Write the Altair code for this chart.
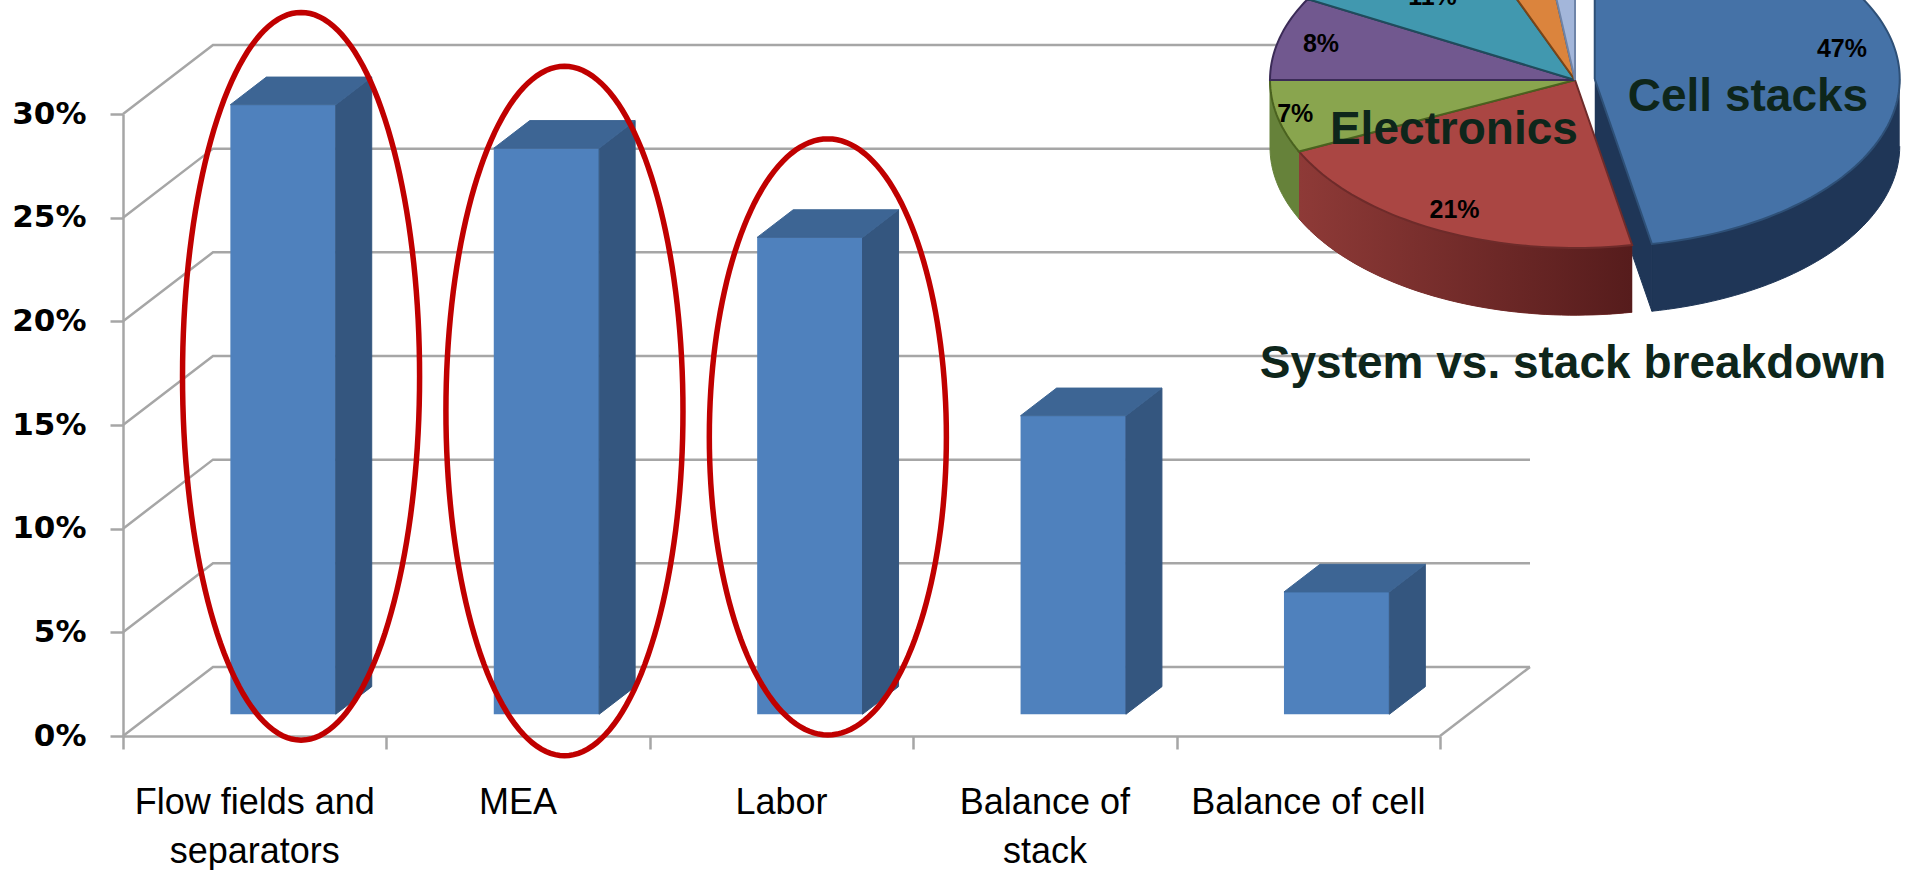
import math
import altair as alt
import pandas as pd

# Stack cost breakdown (3-D bar chart)
categories = ["Flow fields and\nseparators", "MEA", "Labor", "Balance of\nstack", "Balance of cell"]
stack_share = [29.4, 27.3, 23.0, 14.4, 5.9]
circled = [0, 1, 2]
y_ticks = [0, 5, 10, 15, 20, 25, 30]

# System cost breakdown (inset 3-D pie)
system_parts = ["Cell stacks", "Electronics", "Segment 3", "Segment 4", "Segment 5", "Segment 6", "Segment 7"]
system_share = [47, 21, 7, 8, 11, 4, 2]
callouts = ["Cell stacks", "Electronics"]
caption = "System vs. stack breakdown"

# ---- styling ----
GRID = "#a6a6a6"
BAR_FRONT = "#4f81bd"
BAR_SIDE = "#34567f"
BAR_TOP = "#3d6594"
RING = "#c00000"
TEXT_DARK = "#0e261b"
ring_pad_top = [5.5, 5.0, 5.8]        # how far each ring reaches above its bar (in %)
ring_pad_bottom = [-0.2, -0.95, 0.05]  # lowest point of each ring (in %)
pie_top_colors = ["#4572a7", "#aa4643", "#89a54e", "#71588f", "#4198af", "#db843d", "#a3b6da"]
pie_edge_colors = ["#2e5077", "#6e2b2a", "#4a621f", "#3b2b57", "#1f4c5c", "#7a4518", "#6f84a8"]
pie_side_colors = ["#1f3657", "#7a302e", "#66823a", "#45365a", "#28606f", "#8a5326", "#6f84a8"]
pie_explode = [0.065, 0, 0, 0, 0, 0, 0]
pie_label_r = [0.83, 0.87, 0.94, 0.86, 0.68, 0.8, 0.8]
pie_label_turn = [-7, 0, 0, 0, -2, 0, 0]
callout_pos = {"Cell stacks": (0.567, -0.10), "Electronics": (-0.397, -0.30)}

# 3-D geometry: full floor depth in category / percent units, bar depth placement
DX, DY = 0.3417, 3.33
Z0, ZD, BW = 0.315, 0.4, 0.4
N = len(categories)

XS = alt.Scale(domain=[0, N], range=[0, 1317])
YS = alt.Scale(domain=[0, 30], range=[736, 114])


def rows(pid, pts, **extra):
    return [dict(poly=pid, idx=j, x=px, y=py, **extra) for j, (px, py) in enumerate(pts)]


# gridlines on the left wall and back wall, plus the right floor edge
grid_rows = []
for v in y_ticks:
    grid_rows += rows(f"g{v}", [(0, v), (DX, v + DY), (N + DX, v + DY)])
grid_rows += rows("floor", [(N, 0), (N + DX, DY)])
grid_df = pd.DataFrame(grid_rows)

# bar faces
bars = pd.DataFrame({"cat": list(range(N)), "share": stack_share})
bars["x0"] = bars["cat"] + 0.5 - BW / 2 + Z0 * DX
bars["x1"] = bars["x0"] + BW
bars["y0"] = Z0 * DY
bars["y1"] = bars["share"] + Z0 * DY

side_rows, top_rows = [], []
ox, oy = ZD * DX, ZD * DY
for r in bars.itertuples():
    side_rows += rows(f"s{r.cat}", [(r.x1, r.y0), (r.x1 + ox, r.y0 + oy), (r.x1 + ox, r.y1 + oy), (r.x1, r.y1), (r.x1, r.y0)])
    top_rows += rows(f"t{r.cat}", [(r.x0, r.y1), (r.x1, r.y1), (r.x1 + ox, r.y1 + oy), (r.x0 + ox, r.y1 + oy), (r.x0, r.y1)])
side_df = pd.DataFrame(side_rows)
top_df = pd.DataFrame(top_rows)

# highlight rings around the leading bars
ring_rows = []
for n, i in enumerate(circled):
    cx = i + 0.5 + (Z0 + ZD / 2) * DX
    top, bot = stack_share[i] + ring_pad_top[n], ring_pad_bottom[n]
    cy, ry, rx = (top + bot) / 2, (top - bot) / 2, 0.45
    pts = [(cx + rx * math.cos(2 * math.pi * j / 160), cy + ry * math.sin(2 * math.pi * j / 160)) for j in range(161)]
    ring_rows += rows(f"r{i}", pts)
ring_df = pd.DataFrame(ring_rows)

xlab_df = pd.DataFrame({"xc": [i + 0.5 for i in range(N)], "label": categories})

grid = alt.Chart(grid_df).mark_line(color=GRID, strokeWidth=2.5).encode(
    x=alt.X("x:Q", scale=XS, axis=alt.Axis(values=list(range(N + 1)), labels=False, tickSize=13,
                                           tickColor=GRID, tickWidth=2.5, domainColor=GRID,
                                           domainWidth=2.5, grid=False, title=None)),
    y=alt.Y("y:Q", scale=YS, axis=alt.Axis(values=y_ticks, labelExpr="datum.value + '%'",
                                           labelFont="DejaVu Sans", labelFontSize=31,
                                           labelFontWeight="bold", labelColor="#000000",
                                           labelPadding=24, tickSize=13, tickColor=GRID,
                                           tickWidth=2.5, domainColor=GRID, domainWidth=2.5,
                                           grid=False, title=None)),
    detail="poly:N", order="idx:Q",
)

front = alt.Chart(bars).mark_rect(color=BAR_FRONT).encode(
    x=alt.X("x0:Q", scale=XS, axis=None), x2="x1:Q",
    y=alt.Y("y0:Q", scale=YS, axis=None), y2="y1:Q",
)


def face_layer(df, colour):
    return alt.Chart(df).mark_line(fill=colour, stroke=colour, strokeWidth=1).encode(
        x=alt.X("x:Q", scale=XS, axis=None), y=alt.Y("y:Q", scale=YS, axis=None),
        detail="poly:N", order="idx:Q",
    )


sides = face_layer(side_df, BAR_SIDE)
tops = face_layer(top_df, BAR_TOP)

rings = alt.Chart(ring_df).mark_line(color=RING, strokeWidth=5.5).encode(
    x=alt.X("x:Q", scale=XS, axis=None), y=alt.Y("y:Q", scale=YS, axis=None),
    detail="poly:N", order="idx:Q",
)

xlabels = alt.Chart(xlab_df).mark_text(
    font="Liberation Sans", fontSize=36, lineBreak="\n", lineHeight=49,
    baseline="alphabetic", align="center", color="#000000",
).encode(x=alt.X("xc:Q", scale=XS, axis=None), y=alt.value(814), text="label:N")

# ---- pie geometry in unit-circle coordinates; the scales squash it into an ellipse ----
PX = alt.Scale(domain=[-1, 1], range=[1147, 1757])
PY = alt.Scale(domain=[-1, 1], range=[248, -88])
THICK = 0.4


def rim(a):
    return math.sin(math.radians(a)), math.cos(math.radians(a))


def arc(a0, a1, dx, dy, shift=0.0):
    n = max(2, int(abs(a1 - a0) / 1.5) + 1)
    out = []
    for j in range(n + 1):
        a = a0 + (a1 - a0) * j / n
        sx, sy = rim(a)
        out.append((sx + dx, sy + dy - shift))
    return out


pie_top_rows, pie_side_rows, pie_label_rows = [], [], []
start = 0.0
for k, (name, v) in enumerate(zip(system_parts, system_share)):
    a0, a1 = start * 3.6, (start + v) * 3.6
    start += v
    mid = (a0 + a1) / 2
    ex, ey = pie_explode[k] * rim(mid)[0], pie_explode[k] * rim(mid)[1]
    pts = [(ex, ey)] + arc(a0, a1, ex, ey) + [(ex, ey)]
    pie_top_rows += rows(f"p{k}", pts, part=name)
    lo, hi = max(a0, 90), min(a1, 270)
    if hi > lo:
        face = arc(lo, hi, ex, ey) + arc(hi, lo, ex, ey, THICK)
        pie_side_rows += rows(f"ps{k}", face, part=name)
    if pie_explode[k] > 0 and 90 < a1 < 270:
        rx1, ry1 = rim(a1)
        cut = [(ex, ey), (rx1 + ex, ry1 + ey), (rx1 + ex, ry1 + ey - THICK), (ex, ey - THICK)]
        pie_side_rows += rows(f"pc{k}", cut, part=name)
    lr, la = pie_label_r[k], mid + pie_label_turn[k]
    pie_label_rows.append(dict(x=lr * rim(la)[0] + ex, y=lr * rim(la)[1] + ey, text=f"{v}%"))

pie_top_df = pd.DataFrame(pie_top_rows)
pie_side_df = pd.DataFrame(pie_side_rows)
pie_label_df = pd.DataFrame(pie_label_rows)
callout_df = pd.DataFrame({"text": callouts,
                           "x": [callout_pos[c][0] for c in callouts],
                           "y": [callout_pos[c][1] for c in callouts]})

pie_sides = alt.Chart(pie_side_df).mark_line(strokeWidth=1).encode(
    x=alt.X("x:Q", scale=PX, axis=None), y=alt.Y("y:Q", scale=PY, axis=None),
    detail="poly:N", order="idx:Q",
    fill=alt.Fill("part:N", scale=alt.Scale(domain=system_parts, range=pie_side_colors), legend=None),
    stroke=alt.Stroke("part:N", scale=alt.Scale(domain=system_parts, range=pie_side_colors), legend=None),
)

red_shade = alt.Gradient(
    gradient="linear", x1=0, x2=1, y1=0, y2=0,
    stops=[alt.GradientStop(color="#8e3a37", offset=0), alt.GradientStop(color="#561c1c", offset=1)],
)
red_side = alt.Chart(pie_side_df[pie_side_df["part"] == "Electronics"]).mark_line(
    fill=red_shade, strokeWidth=0
).encode(
    x=alt.X("x:Q", scale=PX, axis=None), y=alt.Y("y:Q", scale=PY, axis=None),
    detail="poly:N", order="idx:Q",
)

pie_tops = alt.Chart(pie_top_df).mark_line(strokeWidth=2).encode(
    x=alt.X("x:Q", scale=PX, axis=None), y=alt.Y("y:Q", scale=PY, axis=None),
    detail="poly:N", order="idx:Q",
    fill=alt.Fill("part:N", scale=alt.Scale(domain=system_parts, range=pie_top_colors), legend=None),
    stroke=alt.Stroke("part:N", scale=alt.Scale(domain=system_parts, range=pie_edge_colors), legend=None),
)

pct_labels = alt.Chart(pie_label_df).mark_text(
    font="Liberation Sans", fontSize=25, fontWeight="bold", color="#000000",
    align="center", baseline="middle",
).encode(x=alt.X("x:Q", scale=PX, axis=None), y=alt.Y("y:Q", scale=PY, axis=None), text="text:N")

callout_text = alt.Chart(callout_df).mark_text(
    font="Liberation Sans", fontSize=46, fontWeight="bold", color=TEXT_DARK,
    align="center", baseline="middle",
).encode(x=alt.X("x:Q", scale=PX, axis=None), y=alt.Y("y:Q", scale=PY, axis=None), text="text:N")

caption_text = alt.Chart(pd.DataFrame({"text": [caption]})).mark_text(
    font="Liberation Sans", fontSize=46, fontWeight="bold", color=TEXT_DARK,
    align="center", baseline="middle",
).encode(x=alt.value(1450), y=alt.value(364), text="text:N")

chart = alt.layer(
    grid, front, sides, tops, rings, xlabels,
    pie_sides, red_side, pie_tops, pct_labels, callout_text, caption_text,
).resolve_scale(
    x="independent", y="independent", fill="independent", stroke="independent"
).properties(
    width=1317, height=736,
    padding={"left": 123, "top": 0, "right": 472, "bottom": 134},
    autosize=alt.AutoSizeParams(type="none"),
    background="white",
).configure_view(stroke=None)

chart.save("out.html", embed_options={"renderer": "svg", "actions": False})
